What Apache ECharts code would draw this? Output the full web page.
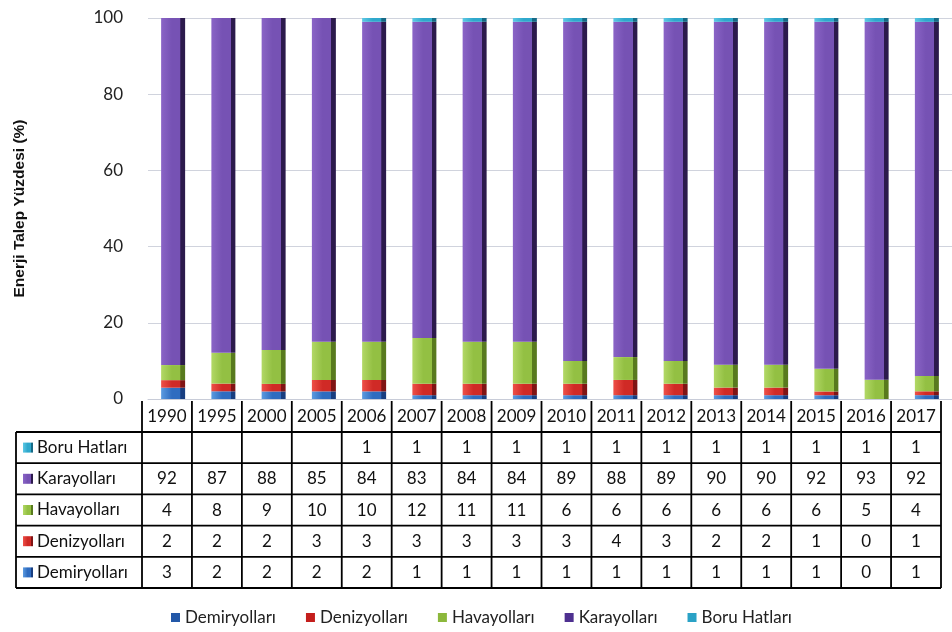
<!DOCTYPE html>
<html>
<head>
<meta charset="utf-8">
<script src="https://cdn.jsdelivr.net/npm/echarts@6/dist/echarts.min.js"></script>
<style>
  html, body { margin: 0; padding: 0; background: #fff; }
  #main { width: 952px; height: 632px; }
</style>
</head>
<body>
<div id="main"></div>
<script>
// yıllar ve ulaşım türlerine göre enerji talebi (%)
const years = ['1990', '1995', '2000', '2005', '2006', '2007', '2008', '2009', '2010', '2011', '2012', '2013', '2014', '2015', '2016', '2017']
const demiryollari = [3, 2, 2, 2, 2, 1, 1, 1, 1, 1, 1, 1, 1, 1, 0, 1]
const denizyollari = [2, 2, 2, 3, 3, 3, 3, 3, 3, 4, 3, 2, 2, 1, 0, 1]
const havayollari = [4, 8, 9, 10, 10, 12, 11, 11, 6, 6, 6, 6, 6, 6, 5, 4]
const karayollari = [92, 87, 88, 85, 84, 83, 84, 84, 89, 88, 89, 90, 90, 92, 93, 92]
const boruHatlari = [null, null, null, null, 1, 1, 1, 1, 1, 1, 1, 1, 1, 1, 1, 1]
const yTicks = [0, 20, 40, 60, 80, 100]

const names = ['Demiryolları', 'Denizyolları', 'Havayolları', 'Karayolları', 'Boru Hatları']
const values = [demiryollari, denizyollari, havayollari, karayollari, boruHatlari]
// renk: [açık, ön yüz, yan yüz]
const shades = [
  ['#5c9be0', '#2f6cc0', '#183e80'],
  ['#ee5048', '#d02a26', '#801414'],
  ['#b2d866', '#93c043', '#587a1e'],
  ['#8a64c6', '#7652b4', '#2c1a4c'],
  ['#5cc8e4', '#2fa8cc', '#176a86']
]
const legendColors = ['#2358a8', '#c41e1c', '#8cb83c', '#4e3090', '#2aa2c6']

const totals = years.map((y, i) => values.reduce((s, arr) => s + (arr[i] || 0), 0))

const face = c => ({
  type: 'linear', x: 0, y: 0, x2: 1, y2: 0,
  colorStops: [
    { offset: 0, color: c[0] },
    { offset: 0.45, color: c[1] },
    { offset: 0.8, color: c[1] },
    { offset: 0.81, color: c[2] },
    { offset: 1, color: c[2] }
  ]
})

const font = 'Lato, "Open Sans", sans-serif'

// tablo yerleşimi
const tblLeft = 142
const tblRight = 941
const labelLeft = 16
const headTop = 401
const rowH = 31.2
const colW = (tblRight - tblLeft) / years.length
const tableRows = [4, 3, 2, 1, 0] // Boru, Kara, Hava, Deniz, Demir
const rowLines = [0, 1, 2, 3, 4, 5].map(i => 432 + i * rowH)

const graphics = []
const line = (x1, y1, x2, y2) => graphics.push({
  type: 'line', shape: { x1, y1, x2, y2 },
  style: { stroke: '#000', lineWidth: 1.8 }
})
rowLines.forEach(y => line(labelLeft, y, tblRight, y))
line(labelLeft, rowLines[0], labelLeft, rowLines[5])
for (let i = 0; i <= years.length; i++) {
  const x = tblLeft + i * colW
  line(x, headTop, x, rowLines[5])
}
tableRows.forEach((si, r) => {
  const cy = rowLines[0] + r * rowH + rowH / 2
  graphics.push({
    type: 'rect', shape: { x: 23, y: cy - 5, width: 10, height: 10 },
    style: { fill: face(shades[si]) }
  })
  graphics.push({
    type: 'text', x: 37, y: cy,
    style: { text: names[si], font: '17px ' + font, fill: '#111', verticalAlign: 'middle' }
  })
})

const tableLabel = (val, idx) => {
  const lines = ['{h|' + val + '}']
  tableRows.forEach(si => {
    const v = values[si][idx]
    lines.push('{v|' + (v === null ? ' ' : v) + '}')
  })
  return lines.join('\n')
}

const chart = echarts.init(document.getElementById('main'))
chart.setOption({
  animation: false,
  backgroundColor: '#fff',
  grid: [
    { left: 148, right: 0, top: 18, bottom: 233 },
    { left: tblLeft, right: 952 - tblRight, top: 399, height: 1 }
  ],
  legend: {
    top: 604,
    left: 166,
    itemWidth: 9,
    itemHeight: 9,
    itemGap: 30,
    icon: 'rect',
    textStyle: { fontFamily: font, fontSize: 17, color: '#222' },
    data: names.map((n, i) => ({ name: n, itemStyle: { color: legendColors[i] } }))
  },
  xAxis: [
    {
      type: 'category', gridIndex: 0, data: years,
      axisLine: { lineStyle: { color: '#c8ccd8' } },
      axisTick: { show: false },
      axisLabel: { show: false }
    },
    {
      type: 'category', gridIndex: 1, data: years,
      axisLine: { show: false },
      axisTick: { show: false },
      axisLabel: {
        interval: 0,
        margin: 1,
        formatter: tableLabel,
        rich: {
          h: { fontFamily: font, fontSize: 17, color: '#111', lineHeight: rowH, align: 'center' },
          v: { fontFamily: font, fontSize: 17, color: '#111', lineHeight: rowH, align: 'center' }
        }
      }
    }
  ],
  yAxis: [
    {
      type: 'value', gridIndex: 0, min: yTicks[0], max: yTicks[yTicks.length - 1], interval: 20,
      name: 'Enerji Talep Yüzdesi (%)',
      nameLocation: 'middle',
      nameGap: 120,
      nameTextStyle: { fontFamily: 'Liberation Sans, Arial, sans-serif', fontWeight: 'bold', fontSize: 15.5, color: '#111' },
      axisLine: { show: false },
      axisTick: { show: false },
      axisLabel: { margin: 25, fontFamily: font, fontSize: 17, color: '#222' },
      splitLine: { lineStyle: { color: '#d0d3dd', width: 1 } }
    },
    { type: 'value', gridIndex: 1, show: false }
  ],
  series: names.map((n, si) => ({
    name: n,
    type: 'bar',
    stack: 'toplam',
    xAxisIndex: 0,
    yAxisIndex: 0,
    barWidth: 24,
    itemStyle: { color: face(shades[si]) },
    data: values[si].map((v, i) => v === null ? null : v / totals[i] * 100)
  })),
  graphic: graphics
})
</script>
</body>
</html>
